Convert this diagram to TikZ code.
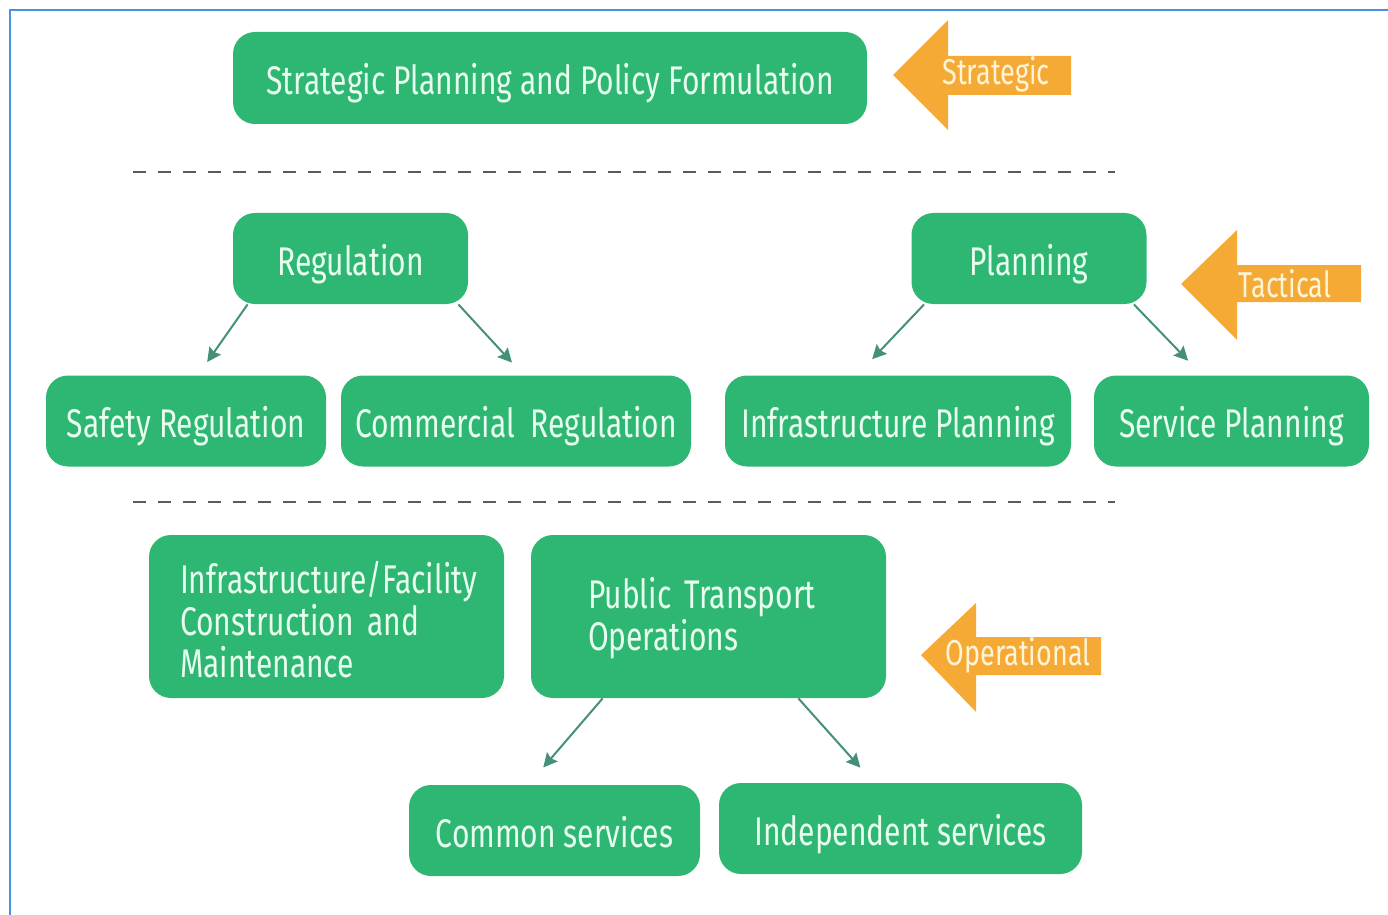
\documentclass[tikz,border=0pt]{standalone}
\usepackage{fontspec}
\setmainfont{Fira Sans}[FakeStretch=0.75]
\usetikzlibrary{arrows.meta, calc, positioning}

\definecolor{boxgreen}{HTML}{2EB673}
\definecolor{boxtext}{HTML}{E8FFEF}
\definecolor{linkgreen}{HTML}{44907A}
\definecolor{tagorange}{HTML}{F6AA36}
\definecolor{tagtext}{HTML}{FFF4D6}
\definecolor{frameblue}{HTML}{4A90E2}
\definecolor{sepgray}{HTML}{5A5A5A}

\tikzset{
    box/.style={fill=boxgreen, rounded corners=11pt, text=boxtext, inner sep=0pt,
        font=\fontsize{20}{21}\selectfont, minimum height=45.5pt},
    oneline/.style={text height=18.5pt, text depth=2pt},
    link/.style={draw=linkgreen, line width=1pt, -{Stealth[length=7pt, width=7pt, inset=1pt]}},
    sepline/.style={draw=sepgray, line width=1.3pt, dash pattern=on 6.5pt off 6pt},
    tag/.style={fill=tagorange},
    tagword/.style={text=tagtext, inner sep=0pt, font=\fontsize{18}{19}\selectfont}
}

\begin{document}
\begin{tikzpicture}[x=0.5pt, y=-0.5pt]
    \useasboundingbox (0,0) rectangle (1388,915);
    \draw[frameblue, line width=1pt] (10,915) -- (10,10) -- (1388,10);

    \node [box, oneline, minimum width=317pt, minimum height=46pt] (Ss) at (550,78) {Strategic Planning and Policy Formulation};

    \node [box, oneline, minimum width=117.5pt] (Rg) at (350.5,258.5) {Regulation};
    \node [box, oneline, minimum width=117.5pt] (Pl) at (1029,258.5) {Planning};

    \node [box, oneline, minimum width=140pt] (Rs) at (186,421) {Safety Regulation};
    \node [box, oneline, minimum width=175pt] (Rc) at (516,421) {Commercial~ Regulation};
    \node [box, oneline, minimum width=173pt] (Pi) at (898,421) {Infrastructure Planning};
    \node [box, oneline, minimum width=137.5pt] (Ps) at (1231.5,421) {Service Planning};

    \node [box, align=left, inner xsep=15.5pt, text width=146.5pt, minimum height=81.5pt] (Of) at (326.5,616.5) {\rule{0pt}{19pt}Infrastructure/Facility\\Construction and\\Maintenance};
    \node [box, align=left, inner xsep=28.5pt, text width=120.5pt, minimum height=81.5pt] (Ot) at (708.5,616.5) {\rule{0pt}{17pt}Public Transport\\Operations};

    \node [box, oneline, minimum width=145.5pt] (Sc) at (554.5,830.5) {Common services};
    \node [box, oneline, minimum width=181.5pt] (Si) at (900.5,828.5) {Independent services};

    \draw [link, shorten >=8pt] ([xshift=7.5pt]Rg.south west) -- ([xshift=6pt]Rs.north);
    \draw [link, shorten >=8.5pt] ([xshift=-5pt]Rg.south east) -- ([xshift=3.75pt]Rc.north);
    \draw [link, shorten >=11pt] ([xshift=6.5pt]Pl.south west) -- ([xshift=-20.5pt]Pi.north);
    \draw [link, shorten >=10pt] ([xshift=-6.5pt]Pl.south east) -- ([xshift=-14.75pt]Ps.north);
    \draw [link, shorten >=11.3pt] ([xshift=36pt]Ot.south west) -- ([xshift=-13pt]Sc.north);
    \draw [link, shorten >=10pt] ([xshift=-44pt]Ot.south east) -- ([xshift=-13.4pt]Si.north);

    \draw [sepline] (133,172) -- (1115,172);
    \draw [sepline] (133,502) -- (1115,502);

    \fill [tag] (893,75) -- (948,20) -- (948,56) -- (1071,56) -- (1071,95) -- (948,95) -- (948,130) -- cycle;
    \node [tagword] (Ts) at (996,74) {Strategic};
    \fill [tag] (1181,284) -- (1237,230) -- (1237,265) -- (1361,265) -- (1361,302) -- (1237,302) -- (1237,340) -- cycle;
    \node [tagword] (Tt) at (1285,284) {Tactical};
    \fill [tag] (921,655) -- (976,603) -- (976,637) -- (1101,637) -- (1101,675) -- (976,675) -- (976,712) -- cycle;
    \node [tagword] (To) at (1018,655) {Operational};
\end{tikzpicture}
\end{document}
